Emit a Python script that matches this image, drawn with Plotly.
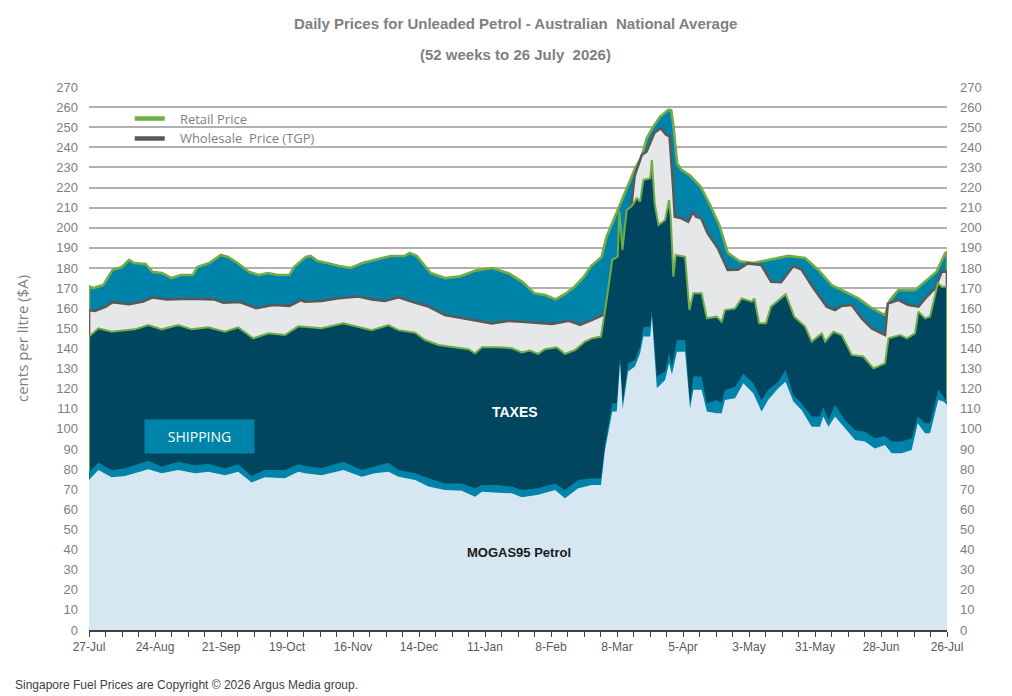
import pandas as pd
import plotly.graph_objects as go

START = pd.Timestamp("2025-07-27")

# ---------------- data (cents per litre), days counted from 27-Jul-2025 ----------------
retail_days = [0, 2, 6, 10, 14, 17, 19, 24, 27, 31, 35, 39, 44, 46, 51, 56, 59, 63, 68, 72, 76, 80, 85, 87,
               92, 94, 97, 101, 106, 111, 116, 121, 128, 134, 136, 139, 141, 145, 151, 157, 164, 171, 178, 184,
               189, 193.5, 198, 202, 206, 210, 213, 217.5, 219.6, 223.2, 227.4, 231.7, 234.5, 236.6, 239.4,
               242.3, 245.8, 247, 248, 249.5, 251.5, 255, 259.5, 263.5, 267.5, 271, 276, 282, 288, 296.7, 303.8,
               309.4, 315.1, 320.7, 326.4, 332.1, 337.7, 339.8, 343.4, 350.4, 354.7, 359.6, 363.2, 364]
retail_price = [171, 170, 171.5, 179, 180.5, 184, 182.5, 182, 178, 177.5, 175, 176.5, 176.5, 180.5, 182.5, 186.5,
                185.5, 182.5, 178, 176.5, 177.5, 176.5, 176.5, 180.5, 185.5, 186, 183.5, 182.5, 181, 180, 182.5,
                184, 186, 186, 187.5, 186, 183, 177.5, 175, 175.7, 178.7, 180, 177.4, 173, 167.4, 166.6, 164.4,
                167.1, 170.7, 175.7, 181, 185.6, 195.6, 205.5, 217.1, 229.6, 235.4, 244.5, 250.3, 255.2, 258.6,
                258.5, 250, 232, 228.7, 226, 220.4, 211.3, 201, 187.5, 183.3, 182.5, 184, 186, 185, 179, 171.5,
                168.2, 164.9, 160, 156.6, 164, 169, 169, 173.2, 178.2, 187.3, 188]

wholesale_days = [0, 2.5, 7, 10, 17, 23, 27, 33, 43, 53, 57, 64, 71, 78, 85, 90, 91.6, 98.7, 105.8, 114.3, 120,
                  125.6, 131.3, 138.4, 144, 151, 158.1, 165.2, 170.8, 177.9, 183.6, 189.2, 196.6, 203.6, 208.3,
                  213.5, 216.8, 218, 222, 226.3, 229.5, 231.5, 234.5, 236.5, 239.9, 242.5, 244.9, 246.3, 247.8,
                  248.5, 251.3, 254.2, 256.3, 257.5, 259.7, 262.5, 266.8, 271, 275.3, 279.5, 285.2, 289.4, 293.6,
                  298.8, 302.3, 307.3, 313, 316.5, 319.3, 323.6, 327.8, 332.1, 337.7, 338.9, 343.4, 347.6, 351.9,
                  355.4, 358.9, 361.8, 364]
wholesale_price = [159, 158.6, 160.7, 163, 162, 163.3, 165.4, 164.4, 164.7, 164.4, 162.7, 163.1, 160, 161.6, 161.1,
                   164, 163.3, 163.6, 165, 165.8, 164.4, 163.6, 165.4, 162.7, 160.8, 156.6, 155.3, 153.7, 152.5,
                   153.7, 153.3, 152.8, 152.2, 153.8, 151.7, 154.2, 155.8, 156.6, 168, 184, 205, 226, 236.2, 237.8,
                   247.3, 249.5, 246.2, 245.6, 220.5, 205.5, 204.7, 203, 208, 205.5, 204.7, 197.2, 189.8, 179, 179.2,
                   182.3, 181.5, 173.2, 172.9, 181, 179.2, 170, 160.8, 159.1, 161.1, 161.6, 155, 150, 146.7, 162.4,
                   164.1, 161.6, 160.8, 165.7, 169.9, 178.2, 178.2]

taxes_days = [0, 4, 9.6, 15.3, 19.5, 25.2, 30.8, 37.9, 43.6, 50.6, 57.7, 63.3, 69.7, 76.1, 83.1, 88.8, 91.6, 98.7,
              107.9, 112.9, 120, 127, 131.3, 138.4, 142.6, 148.3, 155.3, 161, 163.8, 166.7, 173.7, 179.4, 183.6,
              187, 190.6, 193.4, 198.4, 201.9, 206.2, 210.4, 213.3, 217.2, 219.6, 222, 224.3, 225, 226.3, 228.1,
              230.3, 232.4, 233.8, 235.2, 238.1, 238.8, 240, 241.6, 244.4, 246.1, 246.8, 247.9, 248.9, 252.9,
              254.7, 256.4, 259.9, 262.1, 266.3, 268.4, 269.8, 274.1, 276.9, 281.2, 282.3, 284.3, 287.2, 289.3,
              293.5, 295.6, 299.2, 303.8, 306.6, 310.9, 312.3, 315.8, 319.3, 323.6, 328.5, 332.8, 337.7, 339.2,
              344.1, 347, 350.4, 351.9, 354.7, 356.8, 360.1, 361.8, 364]
taxes_top = [145.9, 150, 148.3, 149.1, 149.5, 151.6, 149.5, 151.6, 149.5, 150.5, 148.3, 150.5, 145, 147.5, 146.7,
             151, 150.8, 150, 152.5, 151.2, 149.1, 151.6, 149.1, 147.8, 144.2, 141.7, 140.6, 139.6, 137.6, 140.6,
             140.6, 140.1, 138, 139, 137.3, 139.6, 140.6, 137.3, 139.2, 143.4, 145, 145.9, 164.1, 184, 185.6, 208,
             189, 208.8, 210.8, 214.7, 213, 223.8, 224.6, 233.7, 212, 201.4, 203.9, 213.8, 205, 175.7, 186.5,
             185.6, 159.1, 167.4, 167.4, 155, 155.8, 153.3, 159.1, 159.9, 164.9, 163.3, 164.9, 152.5, 152.5, 160.8,
             164.9, 167, 155.8, 150.9, 143.4, 147.5, 143.4, 148.3, 146.7, 136.8, 136, 130.1, 132.6, 145, 146.7,
             145, 147.5, 158.3, 155, 155.8, 172.4, 170.7, 170.7]

mogas_days = [0, 4, 9.6, 15.3, 25.2, 30.8, 37.9, 45, 50.6, 57.7, 63.3, 69, 74.6, 83.1, 88.8, 91.6, 98.7, 107.9,
              115.7, 121.3, 127, 131.3, 138.4, 144, 151, 158.1, 163.8, 166.7, 173.7, 179.4, 183.6, 190.6, 197.7,
              201.9, 207.6, 213.3, 217.2, 218.9, 222, 223.9, 225.3, 226.4, 228.7, 231.6, 233.8, 235.2, 238.1,
              238.8, 240.9, 244.4, 246.1, 247.3, 249.4, 252.9, 255, 256.4, 259.9, 262.1, 266.3, 268.4, 269.8,
              274.1, 277.6, 281.8, 285.3, 288.1, 292.4, 295.5, 298.8, 302.3, 306.6, 310.1, 311.5, 313.7, 316.5,
              320.7, 325, 329.2, 333.4, 337.7, 340.5, 344.8, 349, 351.6, 354.7, 356.8, 360.3, 362.5, 364]
shipping_top = [78.7, 83.2, 79.4, 80.4, 84.2, 81.2, 83.6, 81.9, 82.7, 80.3, 82.4, 76.6, 79.6, 79.6, 82.4, 81.6,
                80.6, 83.6, 79.6, 81.2, 83.2, 79.6, 77.9, 75.4, 72.9, 72.9, 70.5, 72.1, 72.1, 71.3, 69.6, 70.5,
                72.9, 69.6, 74.6, 75.4, 75.4, 92, 112.7, 112.7, 135.9, 112.7, 132.6, 134.3, 140.9, 150.8, 150.8,
                159.1, 126, 128.5, 137.6, 131, 144.2, 144.2, 112.7, 126, 126, 112.7, 114.4, 112.7, 119.3, 121,
                127.6, 122.7, 114.4, 119.4, 123.5, 129.3, 116.9, 112.7, 106.1, 106.1, 111, 104.4, 111.9, 104.4,
                99.5, 98.6, 95.3, 96.5, 93.7, 93.7, 95.3, 106.1, 102.8, 102.8, 119.4, 116.1, 113]
mogas95 = [74.6, 79.6, 75.9, 76.6, 79.9, 77.9, 79.5, 77.9, 78.7, 76.9, 78.7, 73.3, 76, 75.4, 78.7, 77.9, 77,
           79.5, 76.2, 77.9, 78.7, 76.2, 74.6, 71.3, 69.6, 69.3, 66.3, 68.8, 68.3, 68, 66, 67.2, 69.6, 65.5,
           70.5, 72.1, 72.1, 89.5, 108.6, 108.6, 132.6, 110, 128.5, 131, 137.6, 145.9, 145.9, 155.8, 120.2,
           124.3, 132.6, 127, 138.4, 138.4, 110, 119.4, 119.4, 108.6, 107.8, 107.8, 114.4, 115.2, 122.7, 117.7,
           108.6, 114.4, 120.2, 123.5, 113.6, 109.4, 101.1, 101.1, 106.1, 101.1, 106.1, 100.3, 94.5, 93.7, 90.3,
           92, 87.9, 87.9, 89.5, 102.8, 97.8, 97.8, 114.4, 113.6, 112]

x_tick_step_days = 28
y_ticks = list(range(0, 271, 10))

# ---------------- styling ----------------
TEAL = "#0083a9"
NAVY = "#00465f"
GREY_FILL = "#e6e7e9"
LIGHT = "#d6e7f1"
GREEN = "#70ad47"
DARK = "#595959"
NARROW = "Liberation Sans Narrow, Arial Narrow, Liberation Sans, Arial, sans-serif"
SANS = "Liberation Sans, Arial, sans-serif"
SOFT = "Open Sans, sans-serif"


def to_dates(days):
    return [START + pd.Timedelta(days=d) for d in days]


def with_edges(days, vals, lower_first, lower_last):
    d = [days[0]] + list(days) + [days[-1]]
    v = [lower_first] + list(vals) + [lower_last]
    return to_dates(d), v


def px_x(px):
    return (px - 89) / 858


def px_y(py):
    return (630 - py) / 543


fig = go.Figure()

# painter's order: top layer first, each filled to zero
x, y = with_edges(retail_days, retail_price, wholesale_price[0], wholesale_price[-1])
fig.add_trace(go.Scatter(x=x, y=y, mode="lines", fill="tozeroy", fillcolor=TEAL,
                         line=dict(color=GREEN, width=2.6), showlegend=False, hoverinfo="skip"))
x, y = with_edges(wholesale_days, wholesale_price, taxes_top[0], taxes_top[-1])
fig.add_trace(go.Scatter(x=x, y=y, mode="lines", fill="tozeroy", fillcolor=GREY_FILL,
                         line=dict(color=DARK, width=2.6), showlegend=False, hoverinfo="skip"))
x, y = with_edges(taxes_days, taxes_top, shipping_top[0], shipping_top[-1])
fig.add_trace(go.Scatter(x=x, y=y, mode="lines", fill="tozeroy", fillcolor=NAVY,
                         line=dict(color=GREEN, width=2), showlegend=False, hoverinfo="skip"))
fig.add_trace(go.Scatter(x=to_dates(mogas_days), y=shipping_top, mode="lines", fill="tozeroy",
                         fillcolor=TEAL, line=dict(width=0, color=TEAL), showlegend=False, hoverinfo="skip"))
fig.add_trace(go.Scatter(x=to_dates(mogas_days), y=mogas95, mode="lines", fill="tozeroy",
                         fillcolor=LIGHT, line=dict(width=0, color=LIGHT), showlegend=False, hoverinfo="skip"))

# legend entries
fig.add_trace(go.Scatter(x=[None], y=[None], mode="lines", name="\u00a0\u00a0\u00a0Retail Price",
                         line=dict(color=GREEN, width=4.5)))
fig.add_trace(go.Scatter(x=[None], y=[None], mode="lines", name="\u00a0\u00a0\u00a0Wholesale\u00a0 Price (TGP)",
                         line=dict(color=DARK, width=4.5)))
# right axis carrier
fig.add_trace(go.Scatter(x=[START], y=[0], mode="markers", marker=dict(opacity=0), yaxis="y2",
                         showlegend=False, hoverinfo="skip"))

end = START + pd.Timedelta(days=364)
fig.update_layout(
    width=1012, height=696,
    margin=dict(l=89, r=65, t=87, b=66),
    paper_bgcolor="white", plot_bgcolor="white",
    xaxis=dict(type="date", range=[START, end], tick0=START, dtick=x_tick_step_days * 86400000,
               tickformat="%-d-%b", showgrid=False, zeroline=False, showline=True,
               linecolor="#404040", linewidth=1.5, ticks="outside", ticklen=5, tickcolor="#404040",
               tickwidth=1, minor=dict(dtick=7 * 86400000, tick0=START, ticks="outside", ticklen=5,
                                       tickcolor="#404040", showgrid=False),
               tickfont=dict(family=NARROW, size=12, color=DARK)),
    yaxis=dict(range=[0, 270], tickvals=y_ticks, showgrid=True, gridcolor="#b0b0b0", gridwidth=1.5,
               zeroline=False, showline=False, ticks="", ticklabelstandoff=10,
               tickfont=dict(family=SANS, size=13, color="#7f7f7f")),
    yaxis2=dict(range=[0, 270], tickvals=y_ticks, overlaying="y", side="right", showgrid=False,
                zeroline=False, showline=False, ticks="", ticklabelstandoff=12,
                tickfont=dict(family=SANS, size=13, color="#7f7f7f")),
    legend=dict(x=0.0475, y=0.9695, xanchor="left", yanchor="top", bgcolor="rgba(0,0,0,0)",
                font=dict(family=SOFT, size=13, color="#7f7f7f"),
                tracegroupgap=2, itemwidth=30),
    showlegend=True,
    shapes=[dict(type="rect", xref="paper", yref="paper", x0=px_x(105), x1=px_x(320),
                 y0=px_y(156), y1=px_y(100), fillcolor="white", line=dict(width=0),
                 layer="between")],
    annotations=[
        dict(text="<b>Daily Prices for Unleaded Petrol - Australian\u00a0 National Average</b>", xref="paper",
             yref="paper", x=px_x(515), y=px_y(24), xanchor="center", yanchor="middle", showarrow=False,
             font=dict(family=NARROW, size=15, color="#7f7f7f")),
        dict(text="<b>(52 weeks to 26 July\u00a0 2026)</b>", xref="paper", yref="paper",
             x=px_x(515), y=px_y(55), xanchor="center", yanchor="middle", showarrow=False,
             font=dict(family=NARROW, size=15, color="#7f7f7f")),
        dict(text="SHIPPING", xref="paper", yref="paper", x=px_x(199.5), y=px_y(436.5),
             xanchor="center", yanchor="middle",
             showarrow=False, bgcolor=TEAL, width=109, height=33, borderpad=0,
             font=dict(family=SOFT, size=14, color="white")),
        dict(text="<b>TAXES</b>", xref="paper", yref="paper", x=px_x(515), y=px_y(412),
             xanchor="center", yanchor="middle",
             showarrow=False, font=dict(family=SANS, size=14, color="white")),
        dict(text="<b>MOGAS95 Petrol</b>", xref="paper", yref="paper", x=px_x(519),
             y=px_y(552), xanchor="center", yanchor="middle", showarrow=False,
             font=dict(family=SANS, size=13, color="#1a1a1a")),
        dict(text="cents per litre ($A)", xref="paper", yref="paper", x=px_x(22), y=px_y(339),
             xanchor="center", yanchor="middle",
             textangle=-90, showarrow=False, font=dict(family=SOFT, size=15, color="#7f7f7f")),
        dict(text="Singapore Fuel Prices are Copyright © 2026 Argus Media group.", xref="paper", yref="paper",
             x=px_x(13), y=px_y(685), xanchor="left", yanchor="middle", showarrow=False,
             font=dict(family=NARROW, size=12, color="#404040")),
    ],
)

fig.write_html("out.html")
